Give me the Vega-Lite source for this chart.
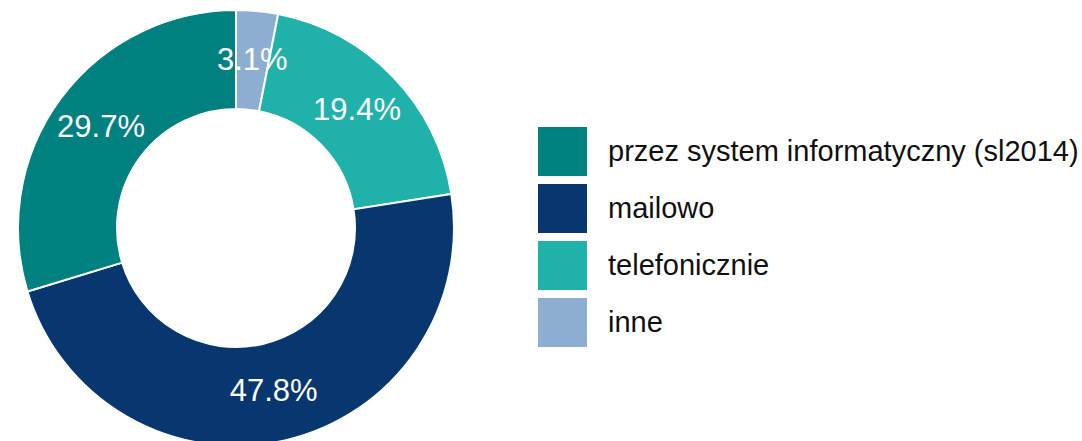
{
  "$schema": "https://vega.github.io/schema/vega-lite/v6.json",
  "width": 472,
  "height": 456,
  "padding": {"left": 0, "top": 0, "right": 610, "bottom": 0},
  "autosize": {"type": "none"},
  "background": "white",
  "data": {
    "values": [
      {"kategoria": "inne", "udzial": 3.1, "etykieta": "3.1%", "kolejnosc": 1},
      {"kategoria": "telefonicznie", "udzial": 19.4, "etykieta": "19.4%", "kolejnosc": 2},
      {"kategoria": "mailowo", "udzial": 47.8, "etykieta": "47.8%", "kolejnosc": 3},
      {"kategoria": "przez system informatyczny (sl2014)", "udzial": 29.7, "etykieta": "29.7%", "kolejnosc": 4}
    ]
  },
  "encoding": {
    "theta": {"field": "udzial", "type": "quantitative", "stack": true},
    "order": {"field": "kolejnosc", "type": "quantitative", "sort": "ascending"}
  },
  "layer": [
    {
      "mark": {"type": "arc", "outerRadius": 218, "innerRadius": 119, "stroke": "white", "strokeWidth": 2},
      "encoding": {
        "color": {
          "field": "kategoria",
          "type": "nominal",
          "scale": {
            "domain": ["przez system informatyczny (sl2014)", "mailowo", "telefonicznie", "inne"],
            "range": ["#00807f", "#08376f", "#20b2aa", "#8eadd2"]
          },
          "legend": {
            "title": null,
            "orient": "none",
            "legendX": 538,
            "legendY": 127,
            "padding": 0,
            "symbolType": "square",
            "symbolSize": 2401,
            "symbolStrokeWidth": 0,
            "symbolOpacity": 1,
            "rowPadding": 8,
            "labelFont": "Liberation Sans",
            "labelFontSize": 29,
            "labelColor": "#111111",
            "labelOffset": 21,
            "labelLimit": 600
          }
        }
      }
    },
    {
      "mark": {"type": "text", "radius": 168, "font": "Liberation Sans", "fontSize": 31, "fill": "white", "align": "center", "baseline": "middle"},
      "encoding": {
        "text": {"field": "etykieta", "type": "nominal"}
      }
    }
  ]
}
